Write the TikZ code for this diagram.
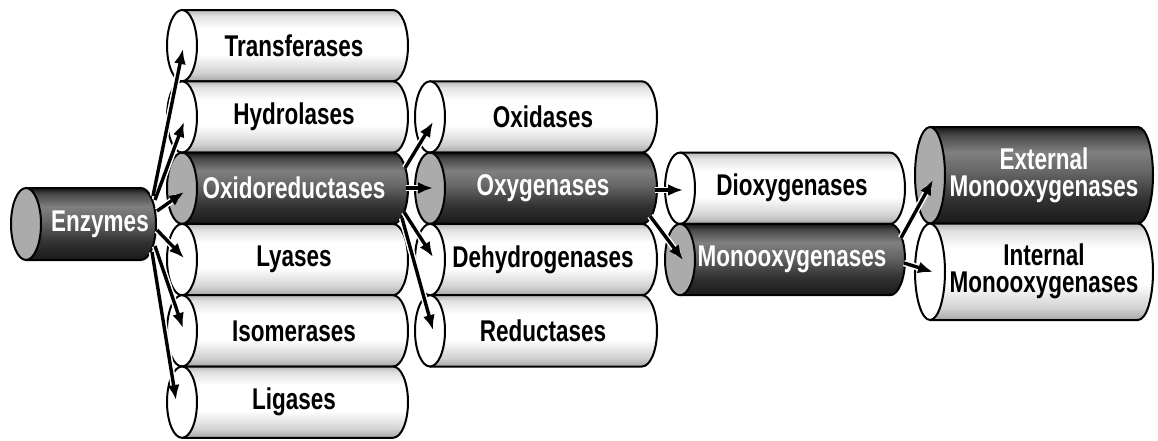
\documentclass[tikz,border=0pt]{standalone}
\usepackage{fontspec}
\usetikzlibrary{arrows.meta}
\newfontfamily\cylfont[FakeStretch=0.75]{Liberation Sans}
\pgfdeclareverticalshading{darkcyl}{100bp}{color(0bp)=(black!90); color(25bp)=(black!90); color(38bp)=(black!80); color(52bp)=(black!60); color(62bp)=(black!50); color(71bp)=(black!72); color(75bp)=(black!92); color(100bp)=(black!92)}
\pgfdeclareverticalshading{lightcyl}{100bp}{color(0bp)=(black!35); color(25bp)=(black!35); color(31bp)=(black!18); color(44bp)=(white); color(62bp)=(white); color(71bp)=(black!12); color(75bp)=(black!28); color(100bp)=(black!28)}
\tikzset{
  darkbody/.style={shade, shading=darkcyl, draw=black, line width=1pt, line join=round},
  lightbody/.style={shade, shading=lightcyl, draw=black, line width=1pt, line join=round},
  darkface/.style={fill=black!33, draw=black, line width=1pt},
  lightface/.style={fill=white, draw=black, line width=1pt},
  darktext/.style={text=white, align=center, inner sep=0pt, font=\cylfont\bfseries\fontsize{15}{13.5}\selectfont},
  lighttext/.style={text=black, align=center, inner sep=0pt, font=\cylfont\bfseries\fontsize{15}{13.5}\selectfont},
  casing/.style={draw=white, line width=3.2pt, shorten >=4pt},
  arr/.style={line width=1.7pt, -{Latex[length=7.5pt,width=6pt]}}
}
% #1 name, #2 left face centre x, #3 right end centre x, #4 top y, #5 bottom y, #6 dark/light, #7 text, #8 text x
\newcommand\cyl[8]{%
  \pgfmathsetmacro\cyc{-(#4+#5)/2}%
  \pgfmathsetmacro\cry{(#5-#4)/2}%
  \path[#6body] (#2,-#4) -- (#3,-#4) arc[start angle=90,end angle=-90,x radius=15,y radius=\cry] -- (#2,-#5) -- cycle;
  \path[#6face] (#2,\cyc) ellipse[x radius=15,y radius=\cry];
  \node[#6text] (#1) at (#8,\cyc) {#7};
}
\begin{document}
\begin{tikzpicture}[x=0.5pt,y=0.5pt]
\useasboundingbox (0,0) rectangle (1158,-440);
% Enzymes
\cyl{enz}{26}{141}{188}{260}{dark}{Enzymes}{100}
% Column 1
\cyl{trans}{182}{393}{10}{81.3}{light}{Transferases}{294}
\cyl{hydro}{182}{393}{81.3}{152.6}{light}{Hydrolases}{294}
\cyl{oxido}{182}{393}{152.6}{223.9}{dark}{Oxidoreductases}{294}
\cyl{lyas}{182}{393}{223.9}{295.2}{light}{Lyases}{294}
\cyl{isom}{182}{393}{295.2}{366.5}{light}{Isomerases}{294}
\cyl{liga}{182}{393}{366.5}{437.8}{light}{Ligases}{294}
% Column 2
\cyl{oxid}{430}{642}{81.3}{152.6}{light}{Oxidases}{543}
\cyl{oxyg}{430}{642}{152.6}{223.9}{dark}{Oxygenases}{543}
\cyl{dehy}{430}{642}{223.9}{295.2}{light}{Dehydrogenases}{543}
\cyl{redu}{430}{642}{295.2}{366.5}{light}{Reductases}{543}
% Column 3
\cyl{diox}{680}{890}{152.6}{223.9}{light}{Dioxygenases}{792}
\cyl{mono}{680}{890}{223.9}{295.2}{dark}{Monooxygenases}{792}
% Column 4
\cyl{ext}{930}{1138}{127}{223.5}{dark}{External\\Monooxygenases}{1044}
\cyl{int}{930}{1138}{223.5}{320}{light}{Internal\\Monooxygenases}{1044}
% arrow start points (on the right ends) and tips (inside the faces)
\coordinate (trans-src) at (153,196);
\coordinate (hydro-src) at (155,200);
\coordinate (oxido-src) at (157,211);
\coordinate (lyas-src)  at (157,230);
\coordinate (isom-src)  at (155,246);
\coordinate (liga-src)  at (152,252);
\coordinate (trans-in) at (183,49);
\coordinate (hydro-in) at (184,122);
\coordinate (oxido-in) at (184,192);
\coordinate (lyas-in)  at (184,258);
\coordinate (isom-in)  at (183,328);
\coordinate (liga-in)  at (176,400);
\coordinate (oxid-src) at (405,168);
\coordinate (oxyg-src) at (406,188);
\coordinate (dehy-src) at (404,212);
\coordinate (redu-src) at (402,218);
\coordinate (oxid-in) at (433,122);
\coordinate (oxyg-in) at (433,188);
\coordinate (dehy-in) at (433,257);
\coordinate (redu-in) at (433,330);
\coordinate (diox-src) at (655,190);
\coordinate (mono-src) at (650,216);
\coordinate (diox-in) at (683,190);
\coordinate (mono-in) at (683,260);
\coordinate (ext-src) at (901,238);
\coordinate (int-src) at (904,263);
\coordinate (ext-in) at (933,180);
\coordinate (int-in) at (933,272);
% arrows: white casings first, then the black arrows
\foreach \t in {trans,hydro,oxido,lyas,isom,liga,oxid,oxyg,dehy,redu,diox,mono,ext,int}
  \draw[casing] ([yscale=-1]\t-src) -- ([yscale=-1]\t-in);
\foreach \t in {trans,hydro,oxido,lyas,isom,liga,oxid,oxyg,dehy,redu,diox,mono,ext,int}
  \draw[arr] ([yscale=-1]\t-src) -- ([yscale=-1]\t-in);
\end{tikzpicture}
\end{document}
